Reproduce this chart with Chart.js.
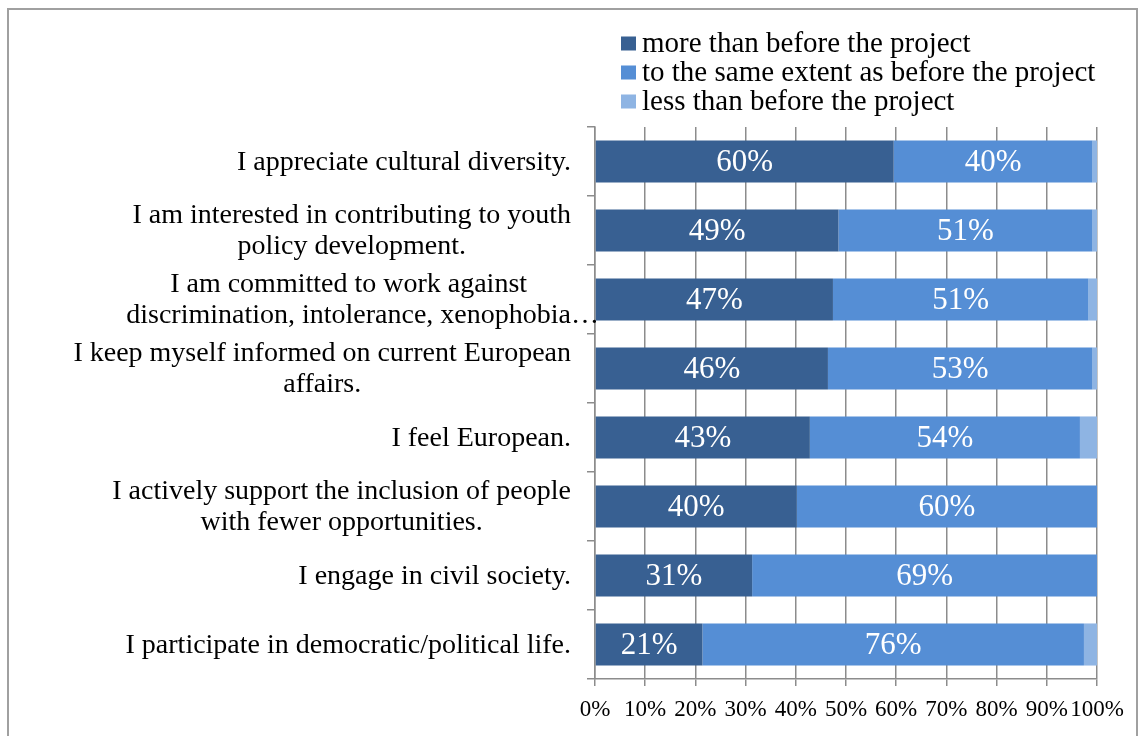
<!DOCTYPE html>
<html>
<head>
<meta charset="utf-8">
<script src="https://cdn.jsdelivr.net/npm/chart.js@4.4.0/dist/chart.umd.min.js"></script>
<style>
  html, body { margin: 0; padding: 0; background: #fff; overflow: hidden; }
  #wrap { position: relative; width: 1142px; height: 736px; }
  #frame { position: absolute; left: 7px; top: 8px; width: 1131px; height: 760px; border: 2px solid #a0a0a0; box-sizing: border-box; }
  #chart { position: absolute; left: 0; top: 0; }
</style>
</head>
<body>
<div id="wrap">
  <div id="frame"></div>
  <canvas id="chart" width="1142" height="736"></canvas>
</div>
<script>
const SERIF = '"Liberation Serif", "Times New Roman", serif';

// statements, each split into the lines shown beside the bars
const categories = [
  ["I appreciate cultural diversity."],
  ["I am interested in contributing to youth", "policy development."],
  ["I am committed to work against", "discrimination, intolerance, xenophobia…"],
  ["I keep myself informed on current European", "affairs."],
  ["I feel European."],
  ["I actively support the inclusion of people", "with fewer opportunities."],
  ["I engage in civil society."],
  ["I participate in democratic/political life."]
];

const seriesNames = [
  "more than before the project",
  "to the same extent as before the project",
  "less than before the project"
];
const seriesColors = ["#386092", "#558ED5", "#8EB4E3"];

// shares in percent
const moreValues = [59.5, 48.5, 47.4, 46.4, 42.8, 40.2, 31.3, 21.4];
const sameValues = [39.6, 50.6, 50.9, 52.7, 53.8, 59.8, 68.7, 76.0];
const lessValues = [0.9, 0.9, 1.7, 0.9, 3.4, 0, 0, 2.6];

const xTicks = [0, 10, 20, 30, 40, 50, 60, 70, 80, 90, 100];

const gridColor = "#8c8c8c";

// white percentage inside the first two segments
const valueLabels = {
  id: "valueLabels",
  afterDatasetsDraw(chart) {
    const ctx = chart.ctx;
    ctx.save();
    ctx.font = "31px " + SERIF;
    ctx.fillStyle = "#fff";
    ctx.textAlign = "center";
    ctx.textBaseline = "middle";
    [0, 1].forEach(di => {
      chart.getDatasetMeta(di).data.forEach((bar, i) => {
        const v = chart.data.datasets[di].data[i];
        const p = bar.getProps(["x", "y", "base"], true);
        ctx.fillText(Math.round(v) + "%", (p.x + p.base) / 2, p.y + 1);
      });
    });
    ctx.restore();
  }
};

// wrapped category text, lines centred within a right-aligned block
const categoryLabels = {
  id: "categoryLabels",
  afterDraw(chart) {
    const ctx = chart.ctx;
    const y = chart.scales.y;
    ctx.save();
    ctx.font = "28px " + SERIF;
    ctx.fillStyle = "#000";
    ctx.textAlign = "left";
    ctx.textBaseline = "middle";
    const right = y.right - 24;
    const lineH = 31;
    categories.forEach((lines, i) => {
      const widths = lines.map(l => ctx.measureText(l.replace(/…$/, "")).width);
      const block = Math.max(...widths);
      const cx = right - block / 2;
      const cy = y.getPixelForValue(i) + 1;
      lines.forEach((l, k) => {
        ctx.fillText(l, cx - widths[k] / 2, cy + (k - (lines.length - 1) / 2) * lineH);
      });
    });
    ctx.restore();
  }
};

// stacked legend in the top right corner
const cornerLegend = {
  id: "cornerLegend",
  afterDraw(chart) {
    const ctx = chart.ctx;
    ctx.save();
    ctx.font = "29px " + SERIF;
    ctx.textAlign = "left";
    ctx.textBaseline = "middle";
    chart.data.datasets.forEach((ds, i) => {
      const cy = 43.5 + i * 29;
      ctx.fillStyle = ds.backgroundColor;
      ctx.fillRect(621, cy - 7, 15, 14);
      ctx.fillStyle = "#000";
      ctx.fillText(ds.label, 642, cy + 1);
    });
    ctx.restore();
  }
};

const ctx = document.getElementById("chart").getContext("2d");
new Chart(ctx, {
  type: "bar",
  data: {
    labels: categories.map(c => c.join(" ")),
    datasets: [
      { label: seriesNames[0], data: moreValues, backgroundColor: seriesColors[0] },
      { label: seriesNames[1], data: sameValues, backgroundColor: seriesColors[1] },
      { label: seriesNames[2], data: lessValues, backgroundColor: seriesColors[2] }
    ]
  },
  options: {
    indexAxis: "y",
    responsive: false,
    animation: false,
    datasets: { bar: { categoryPercentage: 1, barPercentage: 0.61 } },
    layout: { padding: { top: 127, right: 45, bottom: 0, left: 0 } },
    plugins: {
      legend: { display: false },
      tooltip: { enabled: false }
    },
    scales: {
      x: {
        stacked: true,
        min: 0,
        max: 100,
        afterBuildTicks: s => { s.ticks = xTicks.map(v => ({ value: v })); },
        afterFit: s => { s.height = 57; },
        grid: { color: gridColor, lineWidth: 1.5, tickLength: 7 },
        border: { color: gridColor, width: 1.5 },
        ticks: {
          autoSkip: false,
          maxRotation: 0,
          padding: 10,
          color: "#000",
          font: { family: SERIF, size: 23 },
          callback: v => v + "%"
        }
      },
      y: {
        stacked: true,
        afterFit: s => { s.width = 595; },
        grid: { offset: true, drawOnChartArea: false, color: gridColor, lineWidth: 1.5, tickLength: 8 },
        border: { color: gridColor, width: 1.5 },
        ticks: { display: false }
      }
    }
  },
  plugins: [valueLabels, categoryLabels, cornerLegend]
});
</script>
</body>
</html>
